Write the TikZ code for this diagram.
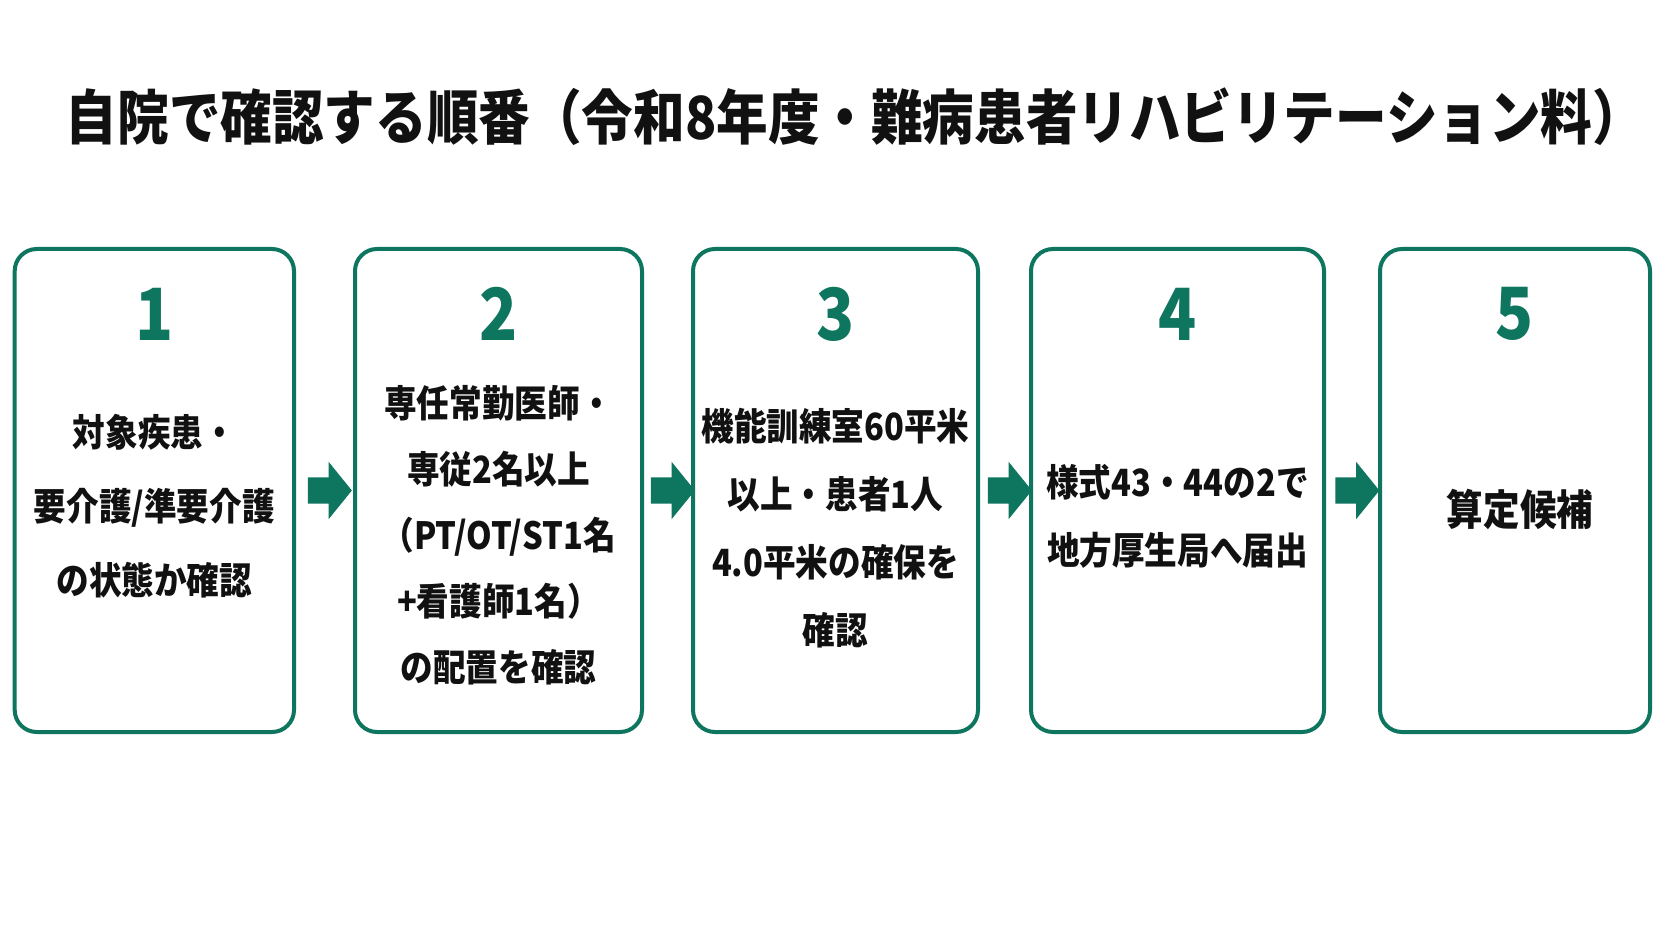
\documentclass[tikz,border=0pt]{standalone}
\usepackage{fontspec}
\newfontfamily\jp{Noto Sans CJK JP}[FakeStretch=0.87]
\usetikzlibrary{shapes.arrows,calc}
\definecolor{gr}{RGB}{14,117,94}
\definecolor{ink}{RGB}{17,17,17}
\begin{document}
\begin{tikzpicture}[x=1pt,y=-1pt,
  stepbox/.style={draw=gr,line width=4pt,rounded corners=22pt,minimum width=#1,minimum height=483pt,inner sep=0pt},
  num/.style={text=gr,inner sep=0pt,font=\jp\bfseries\fontsize{72}{72}\selectfont},
  body/.style={align=center,text=ink,inner sep=0pt,font=\jp\bfseries\fontsize{37.5}{#1}\selectfont},
  blockarrow/.style={single arrow,fill=gr,draw=none,inner xsep=0pt,inner ysep=13pt,minimum height=44pt,single arrow head extend=15.5pt,single arrow tip angle=102}
]
\fill[white] (0,0) rectangle (1672,941);
\useasboundingbox (0,0) rectangle (1672,941);

\node[text=ink,inner sep=0pt,font=\jp\bfseries\fontsize{59.3}{59.3}\selectfont] (title) at (855,117)
  {自院で確認する順番（令和8年度・難病患者リハビリテーション料）};

\node[stepbox=279.3pt] (b1) at (154.35,490.5) {};
\node[stepbox=287pt]   (b2) at (498.5,490.5) {};
\node[stepbox=285pt]   (b3) at (835.5,490.5) {};
\node[stepbox=293pt]   (b4) at (1177.5,490.5) {};
\node[stepbox=270pt]   (b5) at (1515,490.5) {};

\node[num] (n1) at (154.35,314) {1};
\node[num] (n2) at (498.5,314) {2};
\node[num] (n3) at (835.5,314) {3};
\node[num] (n4) at (1177.5,314) {4};
\node[num] (n5) at (1515,314) {5};

\node[body=74pt] (t1) at (154.35,506) {対象疾患・\\要介護/準要介護\\の状態か確認};
\node[body=66pt] (t2) at (498.5,535.5) {専任常勤医師・\\専従2名以上\\（PT/OT/ST1名\\+看護師1名）\\の配置を確認};
\node[body=68pt] (t3) at (835.5,528.5) {機能訓練室60平米\\以上・患者1人\\4.0平米の確保を\\確認};
\node[body=68pt] (t4) at (1177.5,516) {様式43・44の2で\\地方厚生局へ届出};
\node[body=68pt,font=\jp\bfseries\fontsize{42}{68}\selectfont] (t5) at (1520,509) {算定候補};

\node[blockarrow] (a1) at ($(b1.east)!0.5!(b2.west)$) {};
\node[blockarrow] (a2) at ($(b2.east)!0.5!(b3.west)$) {};
\node[blockarrow] (a3) at ($(b3.east)!0.5!(b4.west)$) {};
\node[blockarrow] (a4) at ($(b4.east)!0.5!(b5.west)$) {};
\end{tikzpicture}
\end{document}
